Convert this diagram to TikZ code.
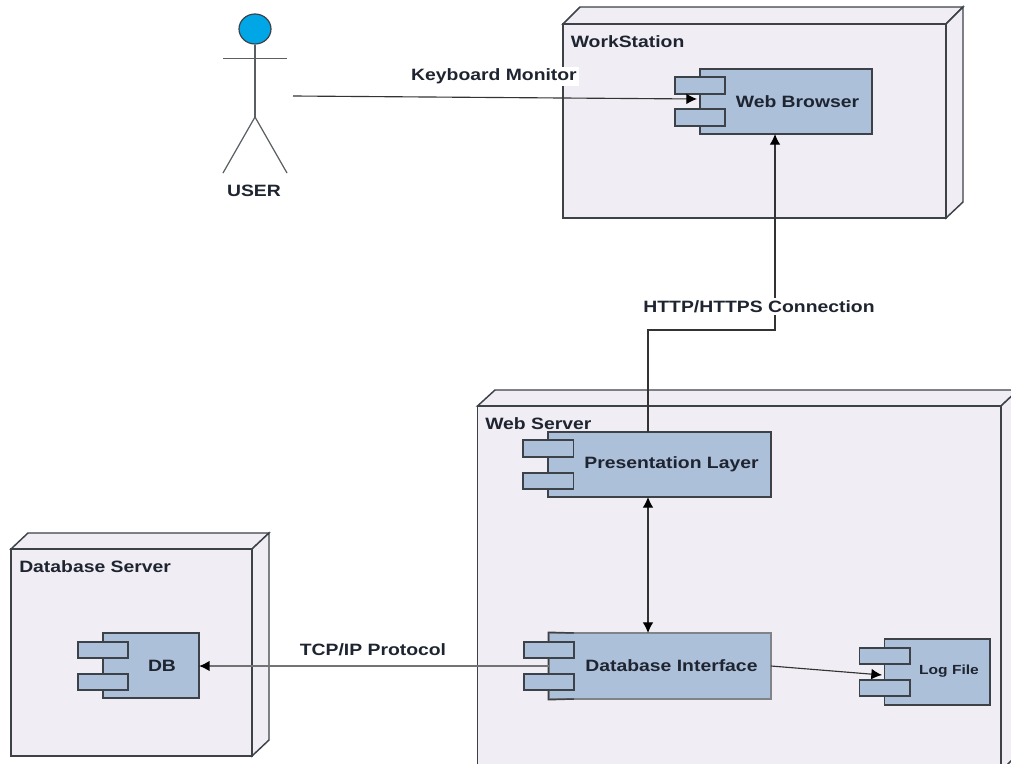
\documentclass[tikz,border=0pt]{standalone}
\usepackage{fontspec}
\setmainfont{Liberation Sans}
\newfontfamily\widefont{Liberation Sans}[FakeStretch=1.18]
\usetikzlibrary{fit,arrows.meta,shapes.geometric}
\definecolor{nodefill}{HTML}{F0EEF4}
\definecolor{compfill}{HTML}{ADC0DA}
\definecolor{edge}{HTML}{3C4248}
\definecolor{ink}{HTML}{1E2430}
\definecolor{headblue}{HTML}{00A6E6}
\tikzset{
  x=0.75pt,y=-0.75pt,
  face/.style={draw=edge,fill=nodefill,line width=1.1pt,line join=miter},
  frontbox/.style={face,inner sep=0pt,fit={#1}},
  compbox/.style={draw=edge,fill=compfill,line width=1.1pt,inner sep=0pt,fit={#1}},
  softcomp/.style={draw=edge!65,fill=compfill,line width=1.1pt,inner sep=0pt,fit={#1}},
  lab/.style={font=\widefont\bfseries\fontsize{12.3pt}{14pt}\selectfont,text=ink,inner sep=0pt},
  smalllab/.style={font=\widefont\bfseries\fontsize{9.9pt}{12pt}\selectfont,text=ink,inner sep=0pt},
  linklab/.style={lab,fill=white,inner sep=1.5pt},
  tip/.style={Latex[length=8pt,width=8pt,color=black]},
  link/.style={draw=black!80,line width=0.85pt,-{Latex[length=8pt,width=8pt,color=black]}},
  softlink/.style={link,draw=black!55,line width=1.2pt},
  figure/.style={draw=edge!85,line width=0.9pt},
}
\begin{document}
\begin{tikzpicture}
\useasboundingbox (0,0) rectangle (1011,764);
\clip (0,0) rectangle (1011,764);

% Workstation node
\path[face] (563,24) -- (580,7) -- (963,7) -- (946,24) -- cycle;
\path[face] (946,24) -- (963,7) -- (963,202) -- (946,218) -- cycle;
\node[frontbox={(563,24)(946,218)}] (ws) {};
\node[lab,anchor=west] (wst) at (570.5,41.5) {WorkStation};

% Web server node
\path[face] (477.5,406) -- (495,390) -- (1018,390) -- (1001,406) -- cycle;
\path[face] (1001,406) -- (1018,390) -- (1018,754) -- (1001,771) -- cycle;
\node[frontbox={(477.5,406)(1001,771)}] (wsv) {};
\node[lab,anchor=west] (wsvt) at (485,423.5) {Web Server};

% Database server node
\path[face] (11,549) -- (28,533) -- (269,533) -- (252,549) -- cycle;
\path[face] (252,549) -- (269,533) -- (269,740) -- (252,756) -- cycle;
\node[frontbox={(11,549)(252,756)}] (dbs) {};
\node[lab,anchor=west] (dbst) at (19,566.5) {Database Server};

% Components
\node[compbox={(700,69)(872,134)}] (wb) {};
\node[compbox={(675,77)(725,94)}] (wba) {};
\node[compbox={(675,109)(725,126)}] (wbb) {};
\node[lab] (wbt) at (797.5,102) {Web Browser};

\node[compbox={(548,432)(771,497)}] (pl) {};
\node[compbox={(523,440)(573.5,457)}] (pla) {};
\node[compbox={(523,473)(573.5,489)}] (plb) {};
\node[lab] (plt) at (671.5,464.5) {Presentation Layer};

\node[softcomp={(549,633)(771,699)}] (di) {};
\draw[draw=edge,line width=1.1pt] (574,633) -- (di.north west) -- (di.south west) -- (574,699);
\node[compbox={(524,642)(574,658)}] (dia) {};
\node[compbox={(524,674)(574,690)}] (dib) {};
\node[lab] (dit) at (671.5,665.5) {Database Interface};

\node[compbox={(884.5,639)(990,705)}] (lf) {};
\node[compbox={(859.5,648)(910,664)}] (lfa) {};
\node[compbox={(859.5,680)(910,696)}] (lfb) {};
\node[smalllab] (lft) at (949,671.5) {Log File};

\node[compbox={(103,633)(199,698)}] (db) {};
\node[compbox={(78,642)(128,658)}] (dba) {};
\node[compbox={(78,674)(128,690)}] (dbb) {};
\node[lab] (dbt) at (162,665.5) {DB};

% Actor
\node[draw=edge,fill=headblue,line width=0.9pt,ellipse,minimum width=24pt,minimum height=22.5pt,inner sep=0pt] (head) at (255,29) {};
\coordinate (hip) at (255,117);
\coordinate (armL) at (223,58.7);
\coordinate (armR) at (287,58.7);
\coordinate (footL) at (223,173);
\coordinate (footR) at (287,173);
\draw[figure] (head.south) -- (hip);
\draw[figure] (armL) -- (armR);
\draw[figure] (footL) -- (hip) -- (footR);
\node[lab] (usr) at (254,190.5) {USER};

% Connectors
\coordinate (userport) at (293,96);
\coordinate (wbin) at (697,99);
\coordinate (wbup) at (775,134);
\coordinate (plup) at (648,432);
\coordinate (pldn) at (648,497);
\coordinate (didn) at (648,633);
\coordinate (dileft) at (549,666);
\coordinate (dbin) at (199,666);
\coordinate (diout) at (771,666);
\coordinate (lfin) at (882,675);
\coordinate (elbowA) at (648,330);
\coordinate (elbowB) at (775,330);
\draw[link] (userport) -- (wbin);
\draw[link] (plup) -- (elbowA) -- (elbowB) -- (wbup);
\draw[link,{Latex[length=8pt,width=8pt,color=black]}-{Latex[length=8pt,width=8pt,color=black]}] (pldn) -- (didn);
\draw[softlink] (dileft) -- (dbin);
\draw[link] (diout) -- (lfin);

\node[linklab] (kbl) at (494,76.5) {Keyboard Monitor};
\node[linklab] (http) at (759,306.5) {HTTP/HTTPS Connection};
\node[linklab] (tcp) at (373,649.5) {TCP/IP Protocol};
\end{tikzpicture}
\end{document}
